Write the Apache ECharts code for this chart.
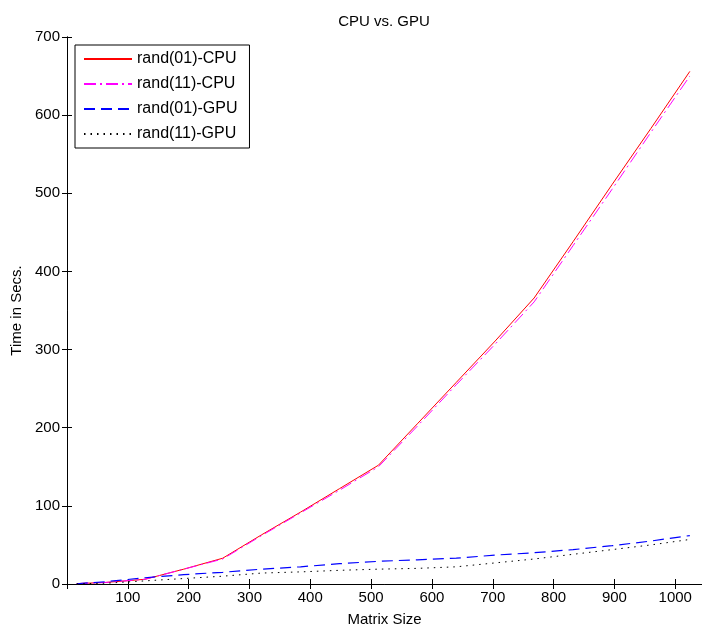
<!DOCTYPE html>
<html>
<head>
<meta charset="utf-8">
<script src="https://cdn.jsdelivr.net/npm/echarts@6/dist/echarts.min.js"></script>
<style>
  html, body { margin: 0; padding: 0; background: #fff; }
  #main { width: 702px; height: 632px; }
</style>
</head>
<body>
<div id="main"></div>
<script>
// matrix sizes (x) and timings in seconds (y)
var sizes     = [16, 64, 128, 192, 256, 320, 384, 448, 512, 576, 640, 704, 768, 832, 896, 960, 1024];
var cpuRand01 = [0.5, 2, 6, 19, 33, 63, 92, 122, 152, 205, 258, 311, 366, 438, 511, 583, 656];
var cpuRand11 = [0.5, 2, 6, 19, 32, 62, 91, 120, 150, 202, 255, 307, 361, 433, 505, 578, 650];
var gpuRand01 = [0.3, 3, 8, 12, 15, 19, 22, 26, 29, 31, 33, 37, 40, 44, 49, 55, 62];
var gpuRand11 = [0.2, 1, 4, 7, 10, 14, 15.5, 17.5, 19, 20, 22, 27, 32, 38, 44, 50, 57];
var seriesNames = ['rand(01)-CPU', 'rand(11)-CPU', 'rand(01)-GPU', 'rand(11)-GPU'];

var FONT = "'Liberation Sans', Arial, sans-serif";

function pairs(ys) {
    return sizes.map(function (s, i) { return [s, ys[i]]; });
}

var myChart = echarts.init(document.getElementById('main'));

var axisCommon = {
    type: 'value',
    axisLine: { show: true, lineStyle: { color: '#000', width: 1 } },
    axisTick: { show: true, inside: true, length: 5, lineStyle: { color: '#000' } },
    splitLine: { show: false }
};

var option = {
    animation: false,
    backgroundColor: '#fff',
    title: {
        text: 'CPU vs. GPU',
        left: 379,
        top: 9,
        textAlign: 'center',
        textStyle: { fontFamily: FONT, fontSize: 15, fontWeight: 'normal', color: '#000' }
    },
    grid: { left: 67, top: 37, right: -1, bottom: 44 },
    legend: {
        orient: 'vertical',
        left: 75,
        top: 45,
        padding: [6, 12, 6, 8],
        itemWidth: 48,
        itemHeight: 14,
        itemGap: 9,
        backgroundColor: '#fff',
        borderColor: '#000',
        borderWidth: 1,
        borderRadius: 0,
        // hide the marker dot, keep only the line sample
        itemStyle: { color: 'rgba(0,0,0,0)', borderColor: 'rgba(0,0,0,0)', borderWidth: 0, opacity: 0 },
        textStyle: { fontFamily: FONT, fontSize: 16, color: '#000' },
        data: seriesNames
    },
    xAxis: [
        echarts.util.merge({
            position: 'bottom',
            min: 0,
            max: 1044,
            interval: 100,
            name: 'Matrix Size',
            nameLocation: 'middle',
            nameGap: 28,
            nameTextStyle: { fontFamily: FONT, fontSize: 15, color: '#000' },
            axisLabel: { showMinLabel: false, showMaxLabel: false, margin: 6,
                fontFamily: FONT, fontSize: 15, color: '#000',
                formatter: function (v) { return String(v); } }
        }, axisCommon, true),
        echarts.util.merge({
            position: 'top',
            min: 0,
            max: 1044,
            interval: 100,
            axisLabel: { show: false }
        }, axisCommon, true)
    ],
    yAxis: [
        echarts.util.merge({
            position: 'left',
            min: 0,
            max: 700,
            interval: 100,
            name: 'Time in Secs.',
            nameLocation: 'middle',
            nameGap: 38,
            nameTextStyle: { fontFamily: FONT, fontSize: 15, color: '#000' },
            axisLabel: { margin: 7, fontFamily: FONT, fontSize: 15, color: '#000' }
        }, axisCommon, true),
        echarts.util.merge({
            position: 'right',
            min: 0,
            max: 700,
            interval: 100,
            axisLabel: { show: false }
        }, axisCommon, true)
    ],
    series: [
        {
            name: seriesNames[0], type: 'line', showSymbol: false, symbol: 'none',
            lineStyle: { color: '#ff0000', width: 1, type: 'solid' },
            itemStyle: { color: '#ff0000' },
            data: pairs(cpuRand01)
        },
        {
            name: seriesNames[1], type: 'line', showSymbol: false, symbol: 'none',
            lineStyle: { color: '#ff00ff', width: 1, type: [12, 4, 2, 4] },
            itemStyle: { color: '#ff00ff' },
            data: pairs(cpuRand11)
        },
        {
            name: seriesNames[2], type: 'line', showSymbol: false, symbol: 'none',
            lineStyle: { color: '#0000ff', width: 1.2, type: [11, 6] },
            itemStyle: { color: '#0000ff' },
            data: pairs(gpuRand01)
        },
        {
            name: seriesNames[3], type: 'line', showSymbol: false, symbol: 'none',
            lineStyle: { color: '#000000', width: 1, type: [1.5, 5] },
            itemStyle: { color: '#000000' },
            data: pairs(gpuRand11)
        }
    ]
};

myChart.setOption(option);
</script>
</body>
</html>
